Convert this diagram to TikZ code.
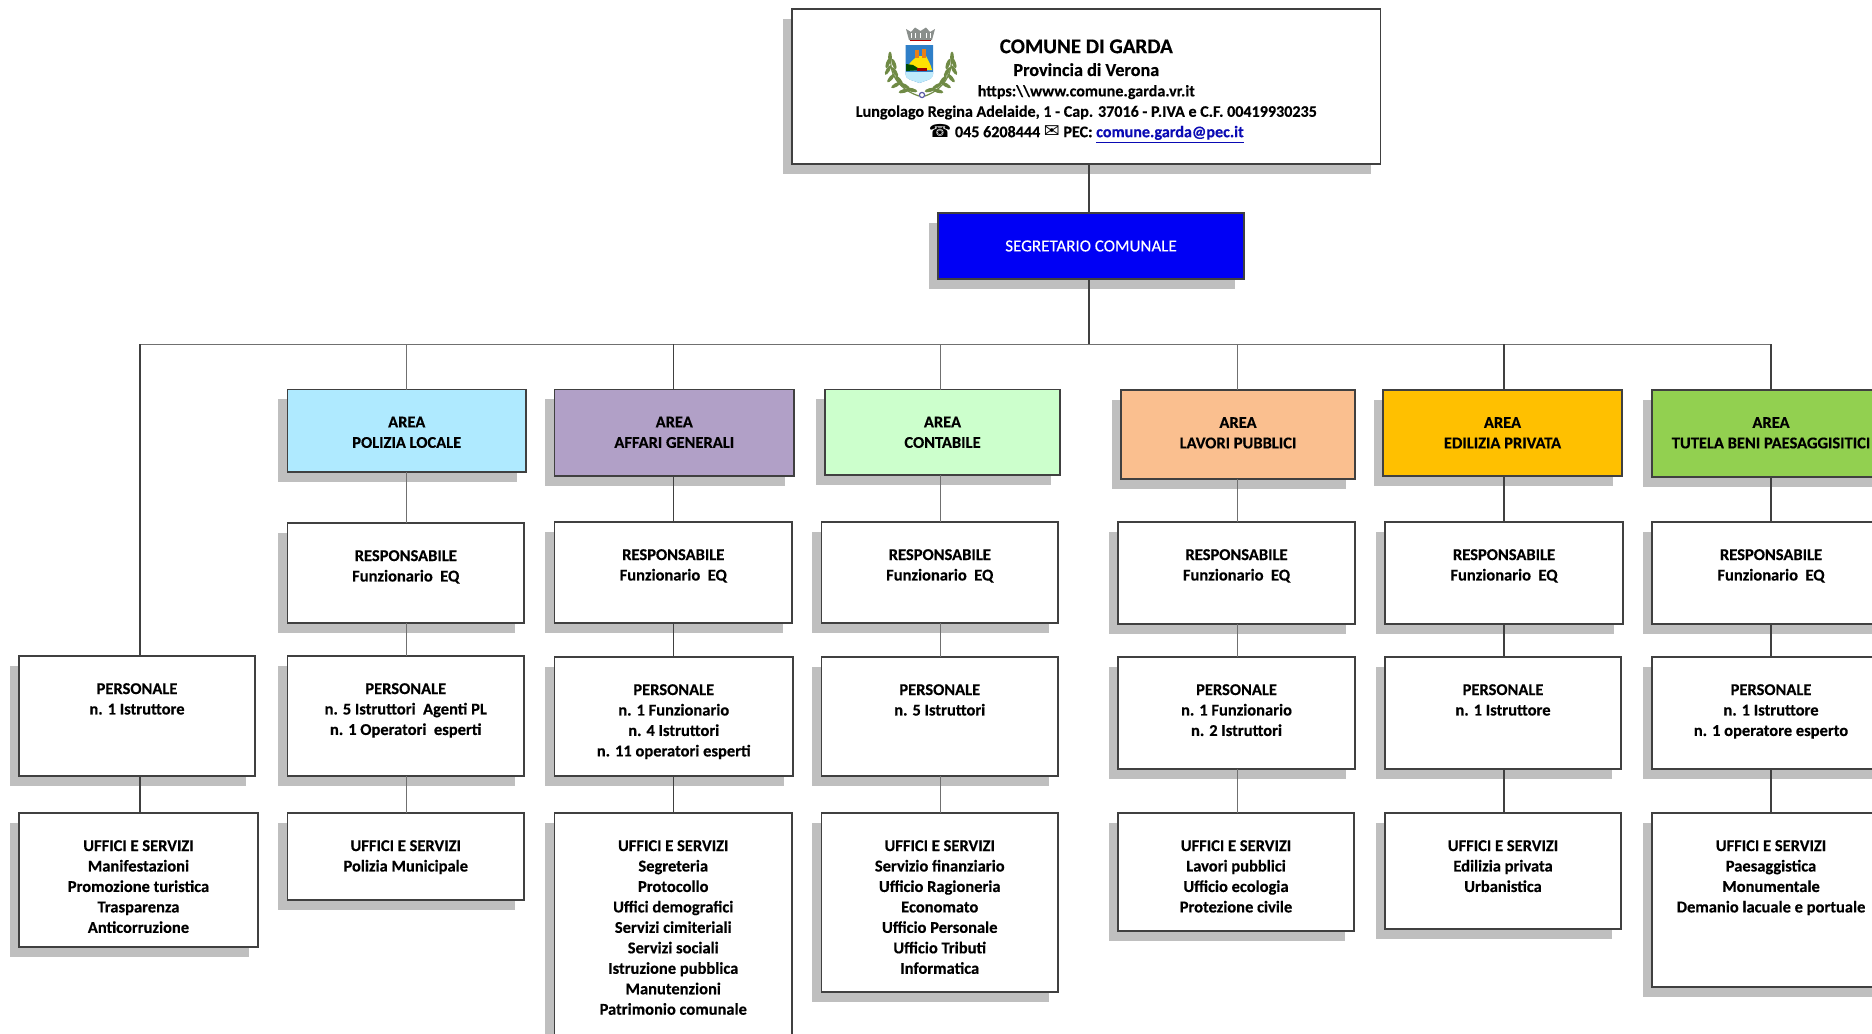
\documentclass[tikz,border=0pt]{standalone}
\usepackage{fontspec}
\setmainfont{Carlito}[BoldFeatures={FakeBold=0.35}]
\newfontfamily\symfont{DejaVu Sans}
\usetikzlibrary{shadows}
\definecolor{shadowgrey}{HTML}{BFBFBF}
\definecolor{edgegrey}{HTML}{404040}
\definecolor{polizia}{HTML}{AFEAFF}
\definecolor{affari}{HTML}{B1A0C7}
\definecolor{contabile}{HTML}{CCFFCC}
\definecolor{lavori}{HTML}{FABF8F}
\definecolor{edilizia}{HTML}{FFC000}
\definecolor{tutela}{HTML}{92D050}
\definecolor{segblue}{HTML}{0000F5}
\definecolor{linkblue}{HTML}{0A0AB4}
\definecolor{laurel}{HTML}{6F8A45}
\definecolor{crownc}{HTML}{8A8F8C}
\definecolor{shieldc}{HTML}{2F7FC8}
\tikzset{
  orgbox/.style={draw=edgegrey,line width=0.6pt,fill=white,inner sep=0pt,outer sep=0pt,anchor=north west,
    general shadow={shadow xshift=-4.6pt,shadow yshift=-4.8pt,fill=shadowgrey,draw=none}},
  darkline/.style={draw=edgegrey,line width=0.6pt},
  thinline/.style={draw=edgegrey!75,line width=0.45pt},
  leaf/.style={fill=#1,draw=none},
  stem/.style={draw=#1,line width=0.6pt,line cap=round}
}
\newcommand{\labelfont}{\fontsize{8.25}{10.23}\selectfont\bfseries}
% name x1 y1 x2 y2 style text   (coordinates in reference pixels)
\newcommand{\ubox}[7]{%
  \pgfmathsetlengthmacro{\bw}{(#4-#2)*0.5pt}%
  \pgfmathsetlengthmacro{\bh}{(#5-#3)*0.5pt}%
  \node[orgbox,#6,minimum width=\bw,minimum height=\bh] (#1) at (#2,#3)
    {\parbox[c][\bh][t]{\bw}{\centering\labelfont\vspace*{13.6pt}#7\par}};}
\begin{document}
\begin{tikzpicture}[x=0.5pt,y=-0.5pt]
\useasboundingbox (0,0) rectangle (1872,1033);
\clip (0,0) rectangle (1872,1033);
% header
\pgfmathsetlengthmacro{\hw}{(1380.6-792)*0.5pt}
\pgfmathsetlengthmacro{\hh}{(164-9)*0.5pt}
\node[orgbox,minimum width=\hw,minimum height=\hh] (head) at (792,9)
 {\parbox[c][\hh][t]{\hw}{\centering\bfseries\vspace*{15.2pt}%
   {\fontsize{10.5}{12}\selectfont COMUNE DI GARDA\par}\vspace{0.8pt}%
   {\fontsize{9.1}{10.6}\selectfont Provincia di Verona\par}%
   {\fontsize{8.05}{10.2}\selectfont https:\textbackslash\textbackslash www.comune.garda.vr.it\par
   Lungolago Regina Adelaide, 1 - Cap. 37016 - P.IVA e C.F. 00419930235\par
   {\symfont\fontsize{9}{10.2}\selectfont ☎} 045 6208444 {\symfont\mdseries\fontsize{9.5}{10.2}\selectfont ✉} PEC: \textcolor{linkblue}{\underline{comune.garda@pec.it}}\par}}};
\pgfmathsetlengthmacro{\sw}{(1244-938)*0.5pt}
\node[orgbox,fill=segblue,text=white,minimum width=\sw,minimum height=33pt,align=center,
      font=\fontsize{8.5}{10}\selectfont] (seg) at (938,213) {\raisebox{-0.5pt}{\addfontfeature{FakeBold=0.2}SEGRETARIO COMUNALE}};
% column 0
\ubox{p0}{19}{656}{255}{776}{}{PERSONALE\\n. 1 Istruttore}
\ubox{u0}{19}{813}{258}{947}{}{UFFICI E SERVIZI\\Manifestazioni\\Promozione turistica\\Trasparenza\\Anticorruzione}
% column 1
\ubox{a1}{287.5}{389.5}{526}{472}{fill=polizia}{AREA\\POLIZIA LOCALE}
\ubox{r1}{287.5}{523}{524}{623}{}{RESPONSABILE\\Funzionario\ \ EQ}
\ubox{p1}{287.5}{656}{524}{776}{}{PERSONALE\\n. 5 Istruttori\ \ Agenti PL\\n. 1 Operatori\ \ esperti}
\ubox{u1}{287.5}{813}{524}{900}{}{UFFICI E SERVIZI\\Polizia Municipale}
% column 2
\ubox{a2}{554.5}{389.5}{794}{476}{fill=affari}{AREA\\AFFARI GENERALI}
\ubox{r2}{554.5}{522}{792}{623}{}{RESPONSABILE\\Funzionario\ \ EQ}
\ubox{p2}{554.5}{657}{793}{776}{}{PERSONALE\\n. 1 Funzionario\\n. 4 Istruttori\\n. 11 operatori esperti}
\ubox{u2}{554.5}{813}{792}{1060}{}{UFFICI E SERVIZI\\Segreteria\\Protocollo\\Uffici demografici\\Servizi cimiteriali\\Servizi sociali\\Istruzione pubblica\\Manutenzioni\\Patrimonio comunale}
% column 3
\ubox{a3}{825}{389.5}{1060}{475}{fill=contabile}{AREA\\CONTABILE}
\ubox{r3}{821.5}{522}{1058}{623}{}{RESPONSABILE\\Funzionario\ \ EQ}
\ubox{p3}{821.5}{657}{1058}{776}{}{PERSONALE\\n. 5 Istruttori}
\ubox{u3}{821.5}{813}{1058}{992}{}{UFFICI E SERVIZI\\Servizio finanziario\\Ufficio Ragioneria\\Economato\\Ufficio Personale\\Ufficio Tributi\\Informatica}
% column 4
\ubox{a4}{1121}{390}{1355}{479}{fill=lavori}{AREA\\LAVORI PUBBLICI}
\ubox{r4}{1118}{522}{1355}{624}{}{RESPONSABILE\\Funzionario\ \ EQ}
\ubox{p4}{1118}{657}{1355}{769}{}{PERSONALE\\n. 1 Funzionario\\n. 2 Istruttori}
\ubox{u4}{1118}{813}{1354}{931}{}{UFFICI E SERVIZI\\Lavori pubblici\\Ufficio ecologia\\Protezione civile}
% column 5
\ubox{a5}{1383}{390}{1622}{476}{fill=edilizia}{AREA\\EDILIZIA PRIVATA}
\ubox{r5}{1385}{522}{1623}{624}{}{RESPONSABILE\\Funzionario\ \ EQ}
\ubox{p5}{1385}{657}{1621}{769}{}{PERSONALE\\n. 1 Istruttore}
\ubox{u5}{1385}{813}{1621}{929}{}{UFFICI E SERVIZI\\Edilizia privata\\Urbanistica}
% column 6
\ubox{a6}{1652}{390}{1890}{477}{fill=tutela}{AREA\\TUTELA BENI PAESAGGISITICI}
\ubox{r6}{1652}{522}{1890}{624}{}{RESPONSABILE\\Funzionario\ \ EQ}
\ubox{p6}{1652}{657}{1890}{769}{}{PERSONALE\\n. 1 Istruttore\\n. 1 operatore esperto}
\ubox{u6}{1652}{813}{1890}{987}{}{UFFICI E SERVIZI\\Paesaggistica\\Monumentale\\Demanio lacuale e portuale}
% bus coordinates
\coordinate (bus) at (1089,344);
\coordinate (b0) at (140,344);
\coordinate (b1) at (406.5,344);
\coordinate (b2) at (673.5,344);
\coordinate (b3) at (940,344);
\coordinate (b4) at (1237,344);
\coordinate (b5) at (1504,344);
\coordinate (b6) at (1771,344);
% connectors
\draw[darkline] (head.south -| bus) -- (seg.north -| bus);
\draw[darkline] (seg.south -| bus) -- (bus);
\draw[thinline] (b0) -- (b6);
\draw[darkline] (b0) -- (p0.north -| b0);
\draw[darkline] (p0.south -| b0) -- (u0.north -| b0);
\draw[thinline] (b1) -- (a1.north -| b1);
\draw[thinline] (a1.south -| b1) -- (r1.north -| b1);
\draw[thinline] (r1.south -| b1) -- (p1.north -| b1);
\draw[thinline] (p1.south -| b1) -- (u1.north -| b1);
\draw[darkline] (b2) -- (a2.north -| b2);
\draw[darkline] (a2.south -| b2) -- (r2.north -| b2);
\draw[darkline] (r2.south -| b2) -- (p2.north -| b2);
\draw[darkline] (p2.south -| b2) -- (u2.north -| b2);
\draw[thinline] (b3) -- (a3.north -| b3);
\draw[thinline] (a3.south -| b3) -- (r3.north -| b3);
\draw[thinline] (r3.south -| b3) -- (p3.north -| b3);
\draw[thinline] (p3.south -| b3) -- (u3.north -| b3);
\draw[thinline] (b4) -- (a4.north -| b4);
\draw[thinline] (a4.south -| b4) -- (r4.north -| b4);
\draw[thinline] (r4.south -| b4) -- (p4.north -| b4);
\draw[thinline] (p4.south -| b4) -- (u4.north -| b4);
\draw[darkline] (b5) -- (a5.north -| b5);
\draw[darkline] (a5.south -| b5) -- (r5.north -| b5);
\draw[darkline] (r5.south -| b5) -- (p5.north -| b5);
\draw[darkline] (p5.south -| b5) -- (u5.north -| b5);
\draw[darkline] (b6) -- (a6.north -| b6);
\draw[darkline] (a6.south -| b6) -- (r6.north -| b6);
\draw[darkline] (r6.south -| b6) -- (p6.north -| b6);
\draw[darkline] (p6.south -| b6) -- (u6.north -| b6);
% crest: crown
\fill[crownc] (906,29) -- (911,32) -- (915,27.5) -- (920.5,31) -- (926,27.5) -- (930,32) -- (935,29) -- (932,40) -- (909,40) -- cycle;
\foreach \cx in {911,915,920.5,926,930} \draw[white,line width=0.35pt] (\cx,33) -- (\cx,38);
\fill[red!70!black] (910,40) rectangle (931,41.2);
% crest: shield
\fill[shieldc] (905.5,45) -- (933,45) -- (933,74) .. controls (933,80) and (926,80) .. (919.5,83) .. controls (913,80) and (905.5,80) .. (905.5,74) -- cycle;
\fill[yellow!85!orange] (907,70) .. controls (908,62) and (914,60) .. (917,56) -- (926,56) .. controls (928,60) and (931,65) .. (932,70) -- cycle;
\fill[orange!65!brown] (915,50) rectangle (919,58);
\fill[orange!65!brown] (921.5,49) rectangle (925.5,58);
\fill[green!30!black] (906,71) -- (906,64) -- (913,65) -- (921,70) -- cycle;
\fill[red!60!black] (917,68) rectangle (927,70.5);
\fill[cyan!25!white] (905.5,72) -- (933,72) -- (933,75) .. controls (933,80) and (926,80) .. (919.5,83) .. controls (913,80) and (905.5,80) .. (905.5,75) -- cycle;
% crest: laurels
\draw[stem=laurel] (891,58) .. controls (889,75) and (900,90) .. (919,96);
\draw[stem=laurel] (951,58) .. controls (953,75) and (942,90) .. (925,96);
\foreach \px/\py/\rr in {890/57/90,888/63/70,894/64/110,888/70/60,895/72/120,891/78/50,899/80/130,896/85/30,905/86/150,904/91/15,912/90/165}{
  \fill[leaf=laurel,rotate around={\rr:(\px,\py)}] (\px,\py) ellipse (5.5 and 1.9);}
\foreach \px/\py/\rr in {952/57/90,954/63/110,948/64/70,954/70/120,947/72/60,951/78/130,943/80/50,946/85/150,937/86/30,938/91/165,930/90/15}{
  \fill[leaf=laurel,rotate around={\rr:(\px,\py)}] (\px,\py) ellipse (5.5 and 1.9);}
\draw[gray!70!blue,line width=0.6pt] (922,95) circle (2.6);
\end{tikzpicture}
\end{document}
